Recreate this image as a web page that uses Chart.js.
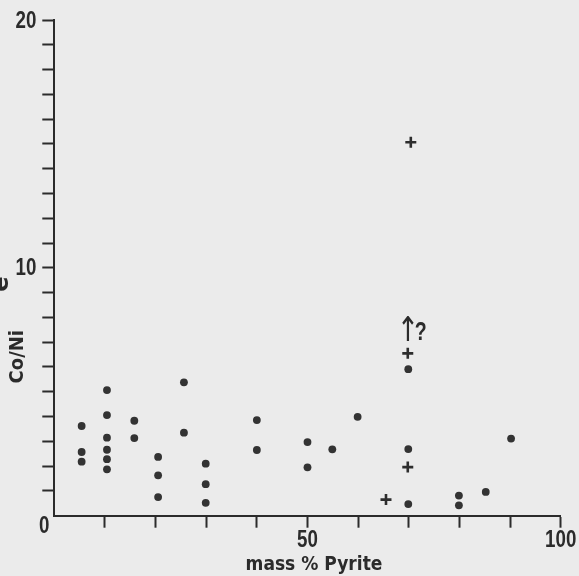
<!DOCTYPE html>
<html>
<head>
<meta charset="utf-8">
<script src="https://cdn.jsdelivr.net/npm/chart.js@4/dist/chart.umd.min.js"></script>
<style>
  html, body { margin: 0; padding: 0; background: #ebebeb; }
  canvas { display: block; }
</style>
</head>
<body>
<canvas id="c" width="579" height="576"></canvas>
<script>
// ---- data ----
const dotX = [5.4, 5.4, 5.4, 10.4, 10.4, 10.4, 10.4, 10.4, 10.4, 15.8, 15.8, 20.5, 20.5, 20.5,
              25.6, 25.6, 29.9, 29.9, 29.9, 40, 40, 50, 50, 54.9, 59.9, 69.9, 69.9, 69.9,
              79.9, 79.9, 85.2, 90.2];
const dotY = [3.62, 2.57, 2.18, 5.07, 4.06, 3.15, 2.66, 2.28, 1.87, 3.83, 3.13, 2.37, 1.63, 0.75,
              5.38, 3.35, 2.10, 1.27, 0.52, 3.86, 2.65, 2.97, 1.95, 2.68, 3.99, 5.91, 2.69, 0.47,
              0.81, 0.42, 0.96, 3.11];
const crossX = [70.4, 69.8, 69.8, 65.5];
const crossY = [15.07, 6.55, 1.96, 0.65];
const noteX = 69.8, noteY = 7.39, noteText = ["↑", "?"];
const xLabels = [50, 100];
const yLabels = [10, 20];
const originLabel = "0";
const xTitle = "mass % Pyrite";
const yTitle = "Co/Ni";

const INK = '#2b2b2b';
const NUM_FONT = "'Liberation Sans', 'Arial', sans-serif";
const TITLE_FONT = "'DejaVu Sans Condensed', 'DejaVu Sans', sans-serif";
const NARROW = 0.78;

function narrowText(ctx, text, x, y, font, align, baseline) {
  ctx.save();
  ctx.font = font;
  ctx.textAlign = align;
  ctx.textBaseline = baseline;
  ctx.translate(x, y);
  ctx.scale(NARROW, 1);
  ctx.fillText(text, 0, 0);
  ctx.restore();
}

const bgPlugin = {
  id: 'bg',
  beforeDraw(chart) {
    const ctx = chart.ctx;
    ctx.save();
    ctx.fillStyle = '#ebebeb';
    ctx.fillRect(0, 0, chart.width, chart.height);
    ctx.restore();
  }
};

const textPlugin = {
  id: 'texts',
  afterDraw(chart) {
    const ctx = chart.ctx;
    const xs = chart.scales.x, ys = chart.scales.y;
    ctx.save();
    ctx.fillStyle = INK;
    const numFont = "bold 24px " + NUM_FONT;
    // tick labels, positioned through the scales
    yLabels.forEach(v => narrowText(ctx, String(v), xs.left - 18, ys.getPixelForValue(v) + 1, numFont, 'right', 'middle'));
    xLabels.forEach(v => narrowText(ctx, String(v), xs.getPixelForValue(v), ys.bottom + 25, numFont, 'center', 'middle'));
    narrowText(ctx, originLabel, xs.getPixelForValue(0) - 5, ys.getPixelForValue(0) + 11, numFont, 'right', 'middle');
    // x title
    ctx.font = "bold 19px " + TITLE_FONT;
    ctx.textAlign = 'center';
    ctx.textBaseline = 'alphabetic';
    ctx.fillText(xTitle, 314, 570);
    // y title (rotated)
    ctx.save();
    ctx.translate(17.5, 356.7);
    ctx.rotate(-Math.PI / 2);
    ctx.font = "bold 20px " + TITLE_FONT;
    ctx.textAlign = 'center';
    ctx.textBaseline = 'middle';
    ctx.fillText(yTitle, 0, 0);
    ctx.restore();
    // cut-off fragment at the left edge
    ctx.save();
    ctx.translate(1, 284);
    ctx.rotate(-Math.PI / 2);
    ctx.font = "bold 25px " + TITLE_FONT;
    ctx.textAlign = 'center';
    ctx.textBaseline = 'middle';
    ctx.fillText("e", 0, 0);
    ctx.restore();
    // annotation "↑?"
    const px = xs.getPixelForValue(noteX), py = ys.getPixelForValue(noteY);
    narrowText(ctx, noteText[0], px, py, "34px 'DejaVu Sans', sans-serif", 'center', 'middle');
    narrowText(ctx, noteText[1], px + 7, py + 1, "bold 25px " + NUM_FONT, 'left', 'middle');
    ctx.restore();
  }
};

const tickCol = (c) => (c.tick && c.tick.value === 0) ? 'rgba(0,0,0,0)' : INK;

new Chart(document.getElementById('c'), {
  type: 'scatter',
  data: {
    datasets: [
      {
        label: 'dots',
        data: dotX.map((x, i) => ({ x: x, y: dotY[i] })),
        pointStyle: 'circle',
        pointRadius: 3.9,
        pointBackgroundColor: '#333333',
        pointBorderWidth: 0
      },
      {
        label: 'crosses',
        data: crossX.map((x, i) => ({ x: x, y: crossY[i] })),
        pointStyle: 'cross',
        pointRadius: 5.5,
        pointBorderWidth: 2.6,
        pointBorderColor: '#2d2d2d'
      }
    ]
  },
  options: {
    responsive: false,
    animation: false,
    devicePixelRatio: 1,
    layout: { padding: { top: 20, right: 18.3, left: 0, bottom: 0 } },
    plugins: { legend: { display: false }, tooltip: { enabled: false } },
    scales: {
      x: {
        type: 'linear',
        min: 0, max: 100,
        afterFit(s) { s.height = 60.3; },
        border: { display: true, color: INK, width: 2 },
        grid: { display: true, drawOnChartArea: false, drawTicks: true, tickLength: 12, tickWidth: 2, tickColor: tickCol },
        ticks: { stepSize: 10, autoSkip: false, maxRotation: 0, display: false }
      },
      y: {
        type: 'linear',
        min: 0, max: 20,
        afterFit(s) { s.width = 54.3; },
        border: { display: true, color: INK, width: 2 },
        grid: { display: true, drawOnChartArea: false, drawTicks: true, tickLength: 12, tickWidth: 2, tickColor: tickCol },
        ticks: { stepSize: 1, autoSkip: false, display: false }
      }
    }
  },
  plugins: [bgPlugin, textPlugin]
});
</script>
</body>
</html>
